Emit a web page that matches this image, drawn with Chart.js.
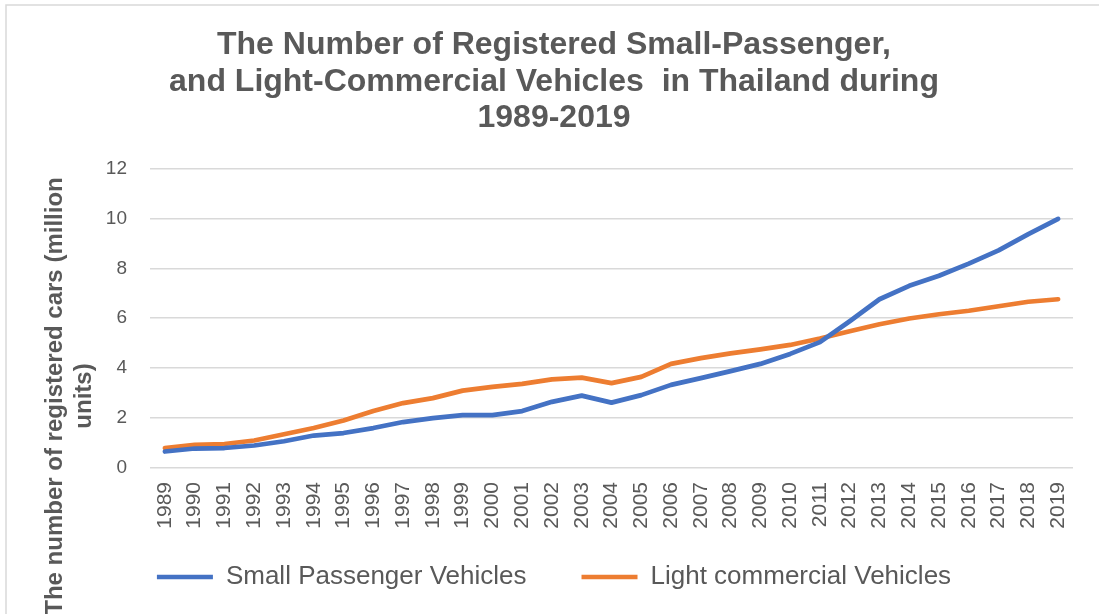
<!DOCTYPE html>
<html>
<head>
<meta charset="utf-8">
<script src="https://cdn.jsdelivr.net/npm/chart.js@4.4.1/dist/chart.umd.min.js"></script>
<style>
  html, body { margin: 0; padding: 0; background: #fff; }
  #wrap { width: 1099px; height: 614px; }
</style>
</head>
<body>
<div id="wrap"><canvas id="cars" width="1099" height="614"></canvas></div>
<script>
// registered vehicles, million units
var years = ['1989', '1990', '1991', '1992', '1993', '1994', '1995', '1996', '1997', '1998',
  '1999', '2000', '2001', '2002', '2003', '2004', '2005', '2006', '2007', '2008',
  '2009', '2010', '2011', '2012', '2013', '2014', '2015', '2016', '2017', '2018', '2019'];
var smallPassenger = [0.66, 0.78, 0.80, 0.90, 1.07, 1.30, 1.40, 1.60, 1.84, 2.00,
  2.12, 2.12, 2.28, 2.65, 2.90, 2.62, 2.92, 3.33, 3.60, 3.88,
  4.17, 4.57, 5.04, 5.88, 6.76, 7.30, 7.70, 8.19, 8.72, 9.37, 9.98];
var lightCommercial = [0.80, 0.93, 0.96, 1.10, 1.35, 1.60, 1.90, 2.28, 2.60, 2.80,
  3.10, 3.25, 3.37, 3.55, 3.62, 3.40, 3.65, 4.17, 4.40, 4.59,
  4.75, 4.93, 5.19, 5.48, 5.76, 5.99, 6.16, 6.30, 6.48, 6.66, 6.76];
var yTicks = [0, 2, 4, 6, 8, 10, 12];

var grey = '#595959';
var font = '"Liberation Sans", Arial, sans-serif';

// frame lines + rotated y title (drawn by hand so it can sit off-centre)
var decor = {
  id: 'decor',
  afterLayout: function (chart) {
    // the wide label padding also pads the row vertically; pull the row back up
    var lg = chart.legend;
    lg.top -= lg.options.labels.padding - 24;
    lg.bottom = chart.height;
    lg.height = lg.bottom - lg.top;
  },
  beforeDraw: function (chart) {
    var ctx = chart.ctx;
    ctx.save();
    ctx.fillStyle = '#fff';
    ctx.fillRect(0, 0, chart.width, chart.height);
    ctx.strokeStyle = '#d9d9d9';
    ctx.lineWidth = 1.5;
    ctx.beginPath();
    ctx.moveTo(6, chart.height);
    ctx.lineTo(6, 5);
    ctx.lineTo(chart.width, 5);
    ctx.stroke();
    ctx.restore();
  },
  afterDraw: function (chart) {
    var ctx = chart.ctx;
    ctx.save();
    ctx.translate(0, 396);
    ctx.rotate(-Math.PI / 2);
    ctx.fillStyle = grey;
    ctx.font = 'bold 24px ' + font;
    ctx.textAlign = 'center';
    ctx.textBaseline = 'middle';
    ctx.fillText('The number of registered cars (million', 0, 55);
    ctx.fillText('units)', 0, 84);
    ctx.restore();
  }
};

var config = {
  type: 'line',
  data: {
    labels: years,
    datasets: [{
      label: 'Small Passenger Vehicles',
      data: smallPassenger,
      borderColor: '#4472C4',
      backgroundColor: '#4472C4',
      borderWidth: 4.7,
      borderCapStyle: 'round',
      borderJoinStyle: 'round',
      pointRadius: 0,
      tension: 0
    }, {
      label: 'Light commercial Vehicles',
      data: lightCommercial,
      borderColor: '#ED7D31',
      backgroundColor: '#ED7D31',
      borderWidth: 4.7,
      borderCapStyle: 'round',
      borderJoinStyle: 'round',
      pointRadius: 0,
      tension: 0
    }]
  },
  options: {
    responsive: false,
    animation: false,
    devicePixelRatio: 1,
    layout: { padding: { left: 35, right: 26, top: 0, bottom: 38 } },
    plugins: {
      title: {
        display: true,
        text: ['The Number of Registered Small-Passenger,',
          'and Light-Commercial Vehicles  in Thailand during',
          '1989-2019'],
        color: grey,
        font: { family: font, size: 32, weight: 'bold', lineHeight: 1.14 },
        padding: { top: 27, bottom: 32 }
      },
      legend: {
        position: 'bottom',
        maxHeight: 36,
        labels: {
          color: grey,
          font: { family: font, size: 26 },
          usePointStyle: true,
          pointStyle: 'line',
          pointStyleWidth: 56,
          padding: 55
        }
      },
      tooltip: { enabled: false }
    },
    scales: {
      x: {
        offset: true,
        grid: { display: false, drawTicks: false },
        border: { display: false },
        ticks: {
          color: grey,
          font: { family: font, size: 21 },
          minRotation: 90,
          maxRotation: 90,
          autoSkip: false,
          padding: 14
        },
        afterFit: function (s) { s.height = 72; }
      },
      y: {
        min: 0,
        max: 12,
        afterBuildTicks: function (s) {
          s.ticks = yTicks.map(function (v) { return { value: v }; });
        },
        grid: { color: '#d9d9d9', lineWidth: 1.5, drawTicks: false },
        border: { display: false },
        ticks: {
          color: grey,
          font: { family: font, size: 19 },
          padding: 23
        },
        afterFit: function (s) { s.width = 115; }
      }
    }
  },
  plugins: [decor]
};

var carsChart = new Chart(document.getElementById('cars'), config);
</script>
</body>
</html>
